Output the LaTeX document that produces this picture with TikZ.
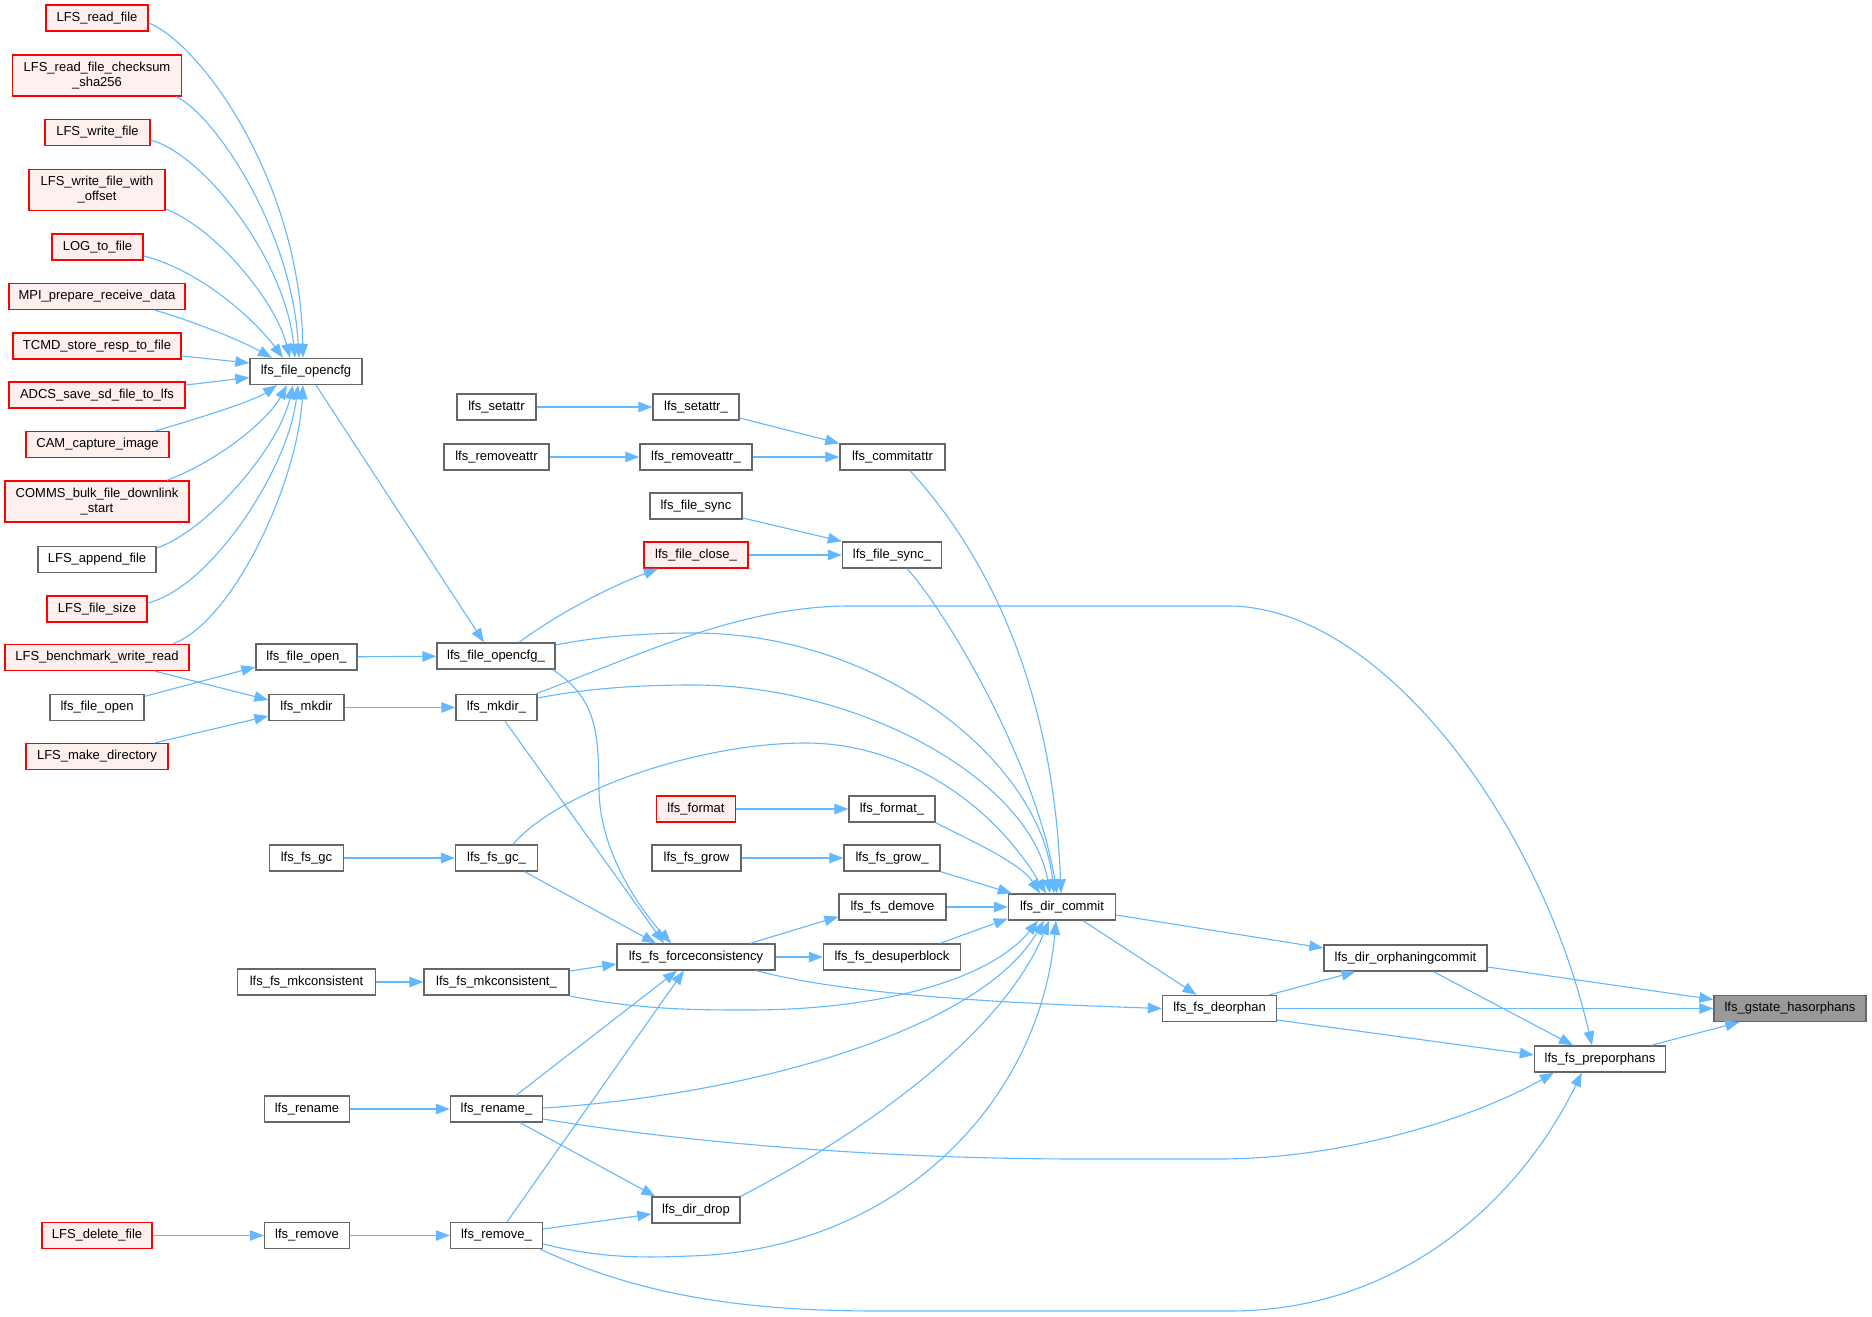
\documentclass[tikz,border=0pt]{standalone}
\usepackage{fontspec}
\setmainfont{Liberation Sans}
\usetikzlibrary{arrows.meta}
\definecolor{edgec}{HTML}{63B8FF}
\definecolor{grayline}{HTML}{666666}
\definecolor{redfill}{HTML}{FFF0F0}
\definecolor{hfill}{HTML}{999999}
\tikzset{
  basebox/.style={draw, line width=1.33pt, font=\fontsize{13}{15}\selectfont, inner xsep=0pt, inner ysep=0pt, minimum height=26pt, align=center},
  gbox/.style={basebox, draw=grayline, fill=white},
  rbox/.style={basebox, draw=red, fill=redfill},
  hbox/.style={basebox, draw=grayline, fill=hfill},
  callarrow/.style={draw=edgec, line width=1.1pt, -{Triangle[length=14pt,width=10.5pt]}}
}
\begin{document}
\begin{tikzpicture}[x=1pt,y=-1pt]
\fill[white] (0,0) rectangle (1872,1317);
\useasboundingbox (0,0) rectangle (1872,1317);
% column 1
\node[rbox, minimum width=102pt] (rf) at (97,18) {LFS\_read\_file};
\node[rbox, minimum width=169pt, minimum height=41pt] (rfc) at (97,75.5) {LFS\_read\_file\_checksum\\\_sha256};
\node[rbox, minimum width=105pt] (wf) at (97.5,132.5) {LFS\_write\_file};
\node[rbox, minimum width=136pt, minimum height=41pt] (wfo) at (97,190) {LFS\_write\_file\_with\\\_offset};
\node[rbox, minimum width=91pt] (log) at (97.5,247) {LOG\_to\_file};
\node[rbox, minimum width=176pt] (mpi) at (97,296.5) {MPI\_prepare\_receive\_data};
\node[rbox, minimum width=168pt] (tcmd) at (97,346) {TCMD\_store\_resp\_to\_file};
\node[rbox, minimum width=176pt] (adcs) at (97,395) {ADCS\_save\_sd\_file\_to\_lfs};
\node[rbox, minimum width=143pt] (cam) at (97.5,444.5) {CAM\_capture\_image};
\node[rbox, minimum width=184pt, minimum height=41pt] (comms) at (97,501.5) {COMMS\_bulk\_file\_downlink\\\_start};
\node[gbox, minimum width=118pt] (app) at (97,559.5) {LFS\_append\_file};
\node[rbox, minimum width=100pt] (fsize) at (97,609) {LFS\_file\_size};
\node[rbox, minimum width=184pt] (bench) at (97,657.5) {LFS\_benchmark\_write\_read};
\node[gbox, minimum width=94pt] (fopen) at (97,707.5) {lfs\_file\_open};
\node[rbox, minimum width=142pt] (mkdirL) at (97,756.5) {LFS\_make\_directory};
\node[rbox, minimum width=110pt] (del) at (97,1235.5) {LFS\_delete\_file};
% column 2
\node[gbox, minimum width=112pt] (opencfg) at (306,371.5) {lfs\_file\_opencfg};
\node[gbox, minimum width=101pt] (fopenU) at (306.5,657) {lfs\_file\_open\_};
\node[gbox, minimum width=75pt] (mkdir) at (306.5,707.5) {lfs\_mkdir};
\node[gbox, minimum width=74pt] (gc) at (306.5,858) {lfs\_fs\_gc};
\node[gbox, minimum width=138pt] (mkc) at (306.5,982) {lfs\_fs\_mkconsistent};
\node[gbox, minimum width=85pt] (ren) at (307,1109) {lfs\_rename};
\node[gbox, minimum width=85pt] (rem) at (307,1235.5) {lfs\_remove};
% column 3
\node[gbox, minimum width=79pt] (setattr) at (496.5,407) {lfs\_setattr};
\node[gbox, minimum width=105pt] (rmattr) at (496.5,457) {lfs\_removeattr};
\node[gbox, minimum width=118pt] (opencfgU) at (496,656) {lfs\_file\_opencfg\_};
\node[gbox, minimum width=81pt] (mkdirU) at (496.5,707.5) {lfs\_mkdir\_};
\node[gbox, minimum width=82pt] (gcU) at (496.5,858) {lfs\_fs\_gc\_};
\node[gbox, minimum width=145pt] (mkcU) at (496.5,982) {lfs\_fs\_mkconsistent\_};
\node[gbox, minimum width=92pt] (renU) at (496.5,1109) {lfs\_rename\_};
\node[gbox, minimum width=92pt] (remU) at (496.5,1235.5) {lfs\_remove\_};
% column 4
\node[gbox, minimum width=86pt] (setattrU) at (696,407) {lfs\_setattr\_};
\node[gbox, minimum width=112pt] (rmattrU) at (696,457) {lfs\_removeattr\_};
\node[gbox, minimum width=92pt] (fsync) at (696,506) {lfs\_file\_sync};
\node[rbox, minimum width=104pt] (fcloseU) at (696,555) {lfs\_file\_close\_};
\node[rbox, minimum width=79pt] (format) at (696,809) {lfs\_format};
\node[gbox, minimum width=89pt] (grow) at (696.5,858) {lfs\_fs\_grow};
\node[gbox, minimum width=158pt] (force) at (696,957) {lfs\_fs\_forceconsistency};
\node[gbox, minimum width=88pt] (drop) at (696,1210) {lfs\_dir\_drop};
% column 5
\node[gbox, minimum width=105pt] (commitattr) at (892.5,457) {lfs\_commitattr};
\node[gbox, minimum width=99pt] (fsyncU) at (892,555) {lfs\_file\_sync\_};
\node[gbox, minimum width=86pt] (formatU) at (892,809) {lfs\_format\_};
\node[gbox, minimum width=96pt] (growU) at (892,858) {lfs\_fs\_grow\_};
\node[gbox, minimum width=107pt] (demove) at (892.5,907) {lfs\_fs\_demove};
\node[gbox, minimum width=137pt] (desuper) at (892,957) {lfs\_fs\_desuperblock};
% right part
\node[gbox, minimum width=107pt] (commit) at (1062,907) {lfs\_dir\_commit};
\node[gbox, minimum width=114pt] (deorphan) at (1219.5,1008.5) {lfs\_fs\_deorphan};
\node[gbox, minimum width=163pt] (orphc) at (1405.5,958) {lfs\_dir\_orphaningcommit};
\node[gbox, minimum width=131pt] (prep) at (1600,1059) {lfs\_fs\_preporphans};
\node[hbox, minimum width=152pt] (gstate) at (1790,1008.5) {lfs\_gstate\_hasorphans};

% edges into lfs_file_opencfg
\draw[callarrow] ([yshift=-5pt]rf.east) .. controls (200,43) and (300,180) .. ([xshift=-3pt]opencfg.north);
\draw[callarrow] ([xshift=-6pt]rfc.south east) .. controls (215,115) and (292,230) .. ([xshift=-7pt]opencfg.north);
\draw[callarrow] ([yshift=-7.5pt]wf.east) .. controls (205,155) and (285,260) .. ([xshift=-11pt]opencfg.north);
\draw[callarrow] ([yshift=-19pt]wfo.east) .. controls (215,228) and (275,300) .. ([xshift=-16pt]opencfg.north);
\draw[callarrow] ([yshift=-9pt]log.east) .. controls (200,270) and (255,320) .. ([xshift=-23pt]opencfg.north);
\draw[callarrow] ([xshift=58pt]mpi.south) .. controls (195,322) and (240,340) .. ([xshift=-34pt]opencfg.north);
\draw[callarrow] ([yshift=-10pt]tcmd.east) -- ([yshift=8.5pt]opencfg.west);
\draw[callarrow] ([yshift=10pt]adcs.east) -- ([yshift=-6pt]opencfg.west);
\draw[callarrow] ([xshift=58pt]cam.north) .. controls (210,415) and (255,400) .. ([xshift=-29pt]opencfg.south);
\draw[callarrow] ([xshift=70pt]comms.north) .. controls (220,460) and (268,420) .. ([xshift=-19pt]opencfg.south);
\draw[callarrow] ([yshift=11.5pt]app.east) .. controls (205,532) and (278,450) .. ([xshift=-13pt]opencfg.south);
\draw[callarrow] ([yshift=6pt]fsize.east) .. controls (210,588) and (288,470) .. ([xshift=-8pt]opencfg.south);
\draw[callarrow] ([xshift=76pt]bench.north) .. controls (235,620) and (298,480) .. ([xshift=-3pt]opencfg.south);
% left small edges
\draw[callarrow] ([xshift=58pt]bench.south) -- ([yshift=7.5pt]mkdir.west);
\draw[callarrow] ([yshift=-2.5pt]fopen.north east) -- ([yshift=-10pt]fopenU.west);
\draw[callarrow] ([xshift=58pt]mkdirL.north) -- ([yshift=-8.5pt]mkdir.west);
\draw[callarrow] (fopenU) -- (opencfgU);
\draw[callarrow] (mkdir) -- (mkdirU);
\draw[callarrow] ([xshift=10pt]opencfg.south) -- ([xshift=-12pt]opencfgU.north);
\draw[callarrow] (setattr) -- (setattrU);
\draw[callarrow] (rmattr) -- (rmattrU);
\draw[callarrow] ([yshift=-11pt]setattrU.east) -- (commitattr.north west);
\draw[callarrow] (rmattrU) -- (commitattr);
\draw[callarrow] ([yshift=-12pt]fsync.east) -- (fsyncU.north west);
\draw[callarrow] (fcloseU) -- (fsyncU);
\draw[callarrow] ([xshift=23pt]opencfgU.north) .. controls (560,612) and (612,586) .. ([xshift=-38pt]fcloseU.south);
% into lfs_dir_commit from above
\draw[callarrow] ([xshift=17.5pt]commitattr.south) .. controls (960,525) and (1052,650) .. ([xshift=-1pt]commit.north);
\draw[callarrow] ([xshift=15pt]fsyncU.south) .. controls (945,610) and (1035,760) .. ([xshift=-5pt]commit.north);
\draw[callarrow] ([yshift=11pt]opencfgU.east) .. controls (600,636) and (650,633) .. (693,633) .. controls (880,633) and (1040,760) .. ([xshift=-8pt]commit.north);
\draw[callarrow] ([yshift=9.5pt]mkdirU.east) .. controls (590,688) and (640,685) .. (693,685) .. controls (860,685) and (1030,780) .. ([xshift=-12pt]commit.north);
\draw[callarrow] ([xshift=16.5pt]gcU.north) .. controls (560,790) and (700,743) .. (806,743) .. controls (900,743) and (990,800) .. ([xshift=-16pt]commit.north);
\draw[callarrow] (formatU.south east) .. controls (965,838) and (1020,862) .. ([xshift=-22pt]commit.north);
\draw[callarrow] (growU.south east) -- ([xshift=4pt]commit.north west);
\draw[callarrow] (demove) -- (commit);
% mkdir_ to preporphans
\draw[callarrow] ([xshift=-2pt]mkdirU.north east) .. controls (640,655) and (740,606) .. (850,606) -- (1228,606) .. controls (1380,606) and (1540,820) .. ([xshift=-8pt]prep.north);
% into forceconsistency
\draw[callarrow] ([xshift=8.5pt]mkdirU.south) -- ([xshift=-32pt]force.north);
\draw[callarrow] ([xshift=-3pt]opencfgU.south east) .. controls (600,700) and (598,740) .. (599,790) .. controls (600,860) and (650,920) .. ([xshift=-25pt]force.north);
\draw[callarrow] (gc) -- (gcU);
\draw[callarrow] ([xshift=28pt]gcU.south) -- ([xshift=-40pt]force.north);
\draw[callarrow] (format) -- (formatU);
\draw[callarrow] (grow) -- (growU);
\draw[callarrow] ([xshift=54pt]force.north) -- ([yshift=4pt]demove.south west);
\draw[callarrow] (force) -- (desuper);
\draw[callarrow] ([xshift=48pt]desuper.north) -- ([yshift=2pt]commit.south west);
\draw[callarrow] ([xshift=60pt]force.south) .. controls (850,995) and (1000,1003) .. (deorphan.west);
\draw[callarrow] (mkc) -- (mkcU);
\draw[callarrow] ([yshift=11pt]mkcU.east) -- ([yshift=-7pt]force.west);
\draw[callarrow] ([yshift=-14pt]mkcU.east) .. controls (640,1010) and (700,1010) .. (748,1010) .. controls (880,1010) and (990,980) .. ([xshift=-24pt]commit.south);
% rename / remove
\draw[callarrow] (ren) -- (renU);
\draw[callarrow] ([xshift=19.5pt]renU.north) -- ([xshift=-19pt]force.south);
\draw[callarrow] ([yshift=1pt]renU.east) .. controls (750,1095) and (980,1030) .. ([xshift=-18pt]commit.south);
\draw[callarrow] ([yshift=-10pt]renU.east) .. controls (700,1145) and (900,1159) .. (1080,1159) -- (1218,1159) .. controls (1350,1159) and (1480,1115) .. ([xshift=20pt]prep.south west);
\draw[callarrow] ([xshift=23.5pt]renU.south) -- ([xshift=4pt]drop.north west);
\draw[callarrow] ([xshift=10.5pt]remU.north) -- ([xshift=-12pt]force.south);
\draw[callarrow] ([yshift=6.5pt]remU.east) -- ([yshift=-4pt]drop.west);
\draw[callarrow] ([yshift=-8.5pt]remU.east) .. controls (600,1258) and (640,1258) .. (690,1256) .. controls (900,1250) and (1040,1100) .. ([xshift=-6pt]commit.south);
\draw[callarrow] ([xshift=-3pt]remU.south east) .. controls (650,1300) and (760,1311) .. (880,1311) -- (1230,1311) .. controls (1400,1311) and (1520,1200) .. ([xshift=48pt]prep.south west);
\draw[callarrow] (rem) -- (remU);
\draw[callarrow] (del) -- (rem);
\draw[callarrow] (drop.north east) .. controls (850,1140) and (1000,1040) .. ([xshift=-13pt]commit.south);
% right part
\draw[callarrow] ([yshift=-8pt]commit.east) -- ([yshift=10pt]orphc.west);
\draw[callarrow] ([xshift=21pt]commit.south) -- ([xshift=-23pt]deorphan.north);
\draw[callarrow] ([xshift=50pt]deorphan.north) -- ([xshift=-50pt]orphc.south);
\draw[callarrow] ([yshift=-9pt]orphc.east) -- ([yshift=9pt]gstate.west);
\draw[callarrow] ([xshift=28pt]orphc.south) -- ([xshift=-27pt]prep.north);
\draw[callarrow] (deorphan) -- (gstate);
\draw[callarrow] ([yshift=-11.5pt]deorphan.east) -- ([yshift=4pt]prep.west);
\draw[callarrow] ([xshift=51pt]prep.north) -- ([xshift=26pt]gstate.south west);
\end{tikzpicture}
\end{document}
